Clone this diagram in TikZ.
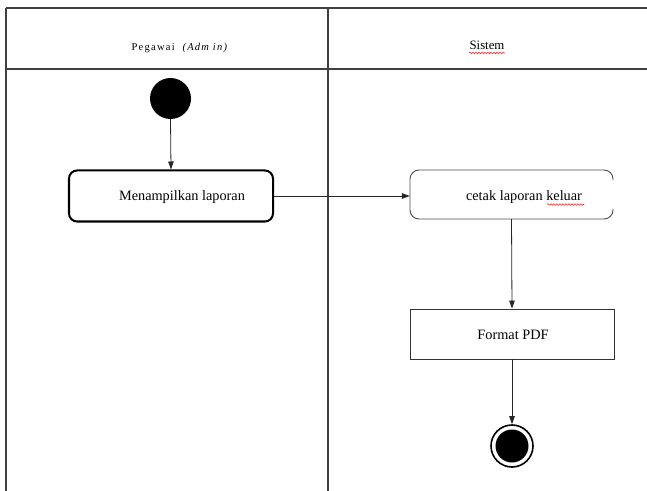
\documentclass[tikz,border=0pt]{standalone}
\usepackage{fontspec}
\setmainfont{Liberation Serif}
\newfontfamily\spacedserif[LetterSpace=12]{Liberation Serif}
\usetikzlibrary{arrows.meta,decorations.pathmorphing}

\tikzset{
  lane/.style={line width=1.3bp, draw=black!75},
  flow/.style={line width=0.8bp, draw=black!85, -{Triangle[length=8bp,width=5.5bp]}},
  startnode/.style={circle, fill=black, minimum size=41bp, inner sep=0pt},
  endnode/.style={circle, draw=black, line width=1.6bp, fill=white, minimum size=42bp, inner sep=0pt},
  boldact/.style={rectangle, rounded corners=8bp, draw=black, line width=2bp,
    minimum width=204bp, minimum height=51bp, inner sep=0pt},
  plainbox/.style={rectangle, draw=black!80, line width=0.9bp,
    minimum width=204bp, minimum height=50bp, inner sep=0pt},
  outline/.style={rectangle, minimum width=203bp, minimum height=49bp, inner sep=0pt},
  caption/.style={font=\fontsize{14.3bp}{16bp}\selectfont, inner sep=0pt},
  spell/.style={draw=red!85, line width=0.6bp,
    decorate, decoration={snake, amplitude=0.8bp, segment length=3bp}}
}

\begin{document}
\begin{tikzpicture}[x=1bp, y=-1bp]
\useasboundingbox (0,0) rectangle (647,491);

% swimlane frame
\draw[lane] (6,8) -- (647,8);
\draw[lane] (6,69) -- (647,69);
\draw[lane] (6,8) -- (6,491);
\draw[lane] (328,8) -- (328,491);

% lane headings
\node[inner sep=0pt] (laneA) at (180,48)
  {\fontsize{10.5bp}{12bp}\selectfont\spacedserif Pegawai\ \ \textit{(Adm in)}};
\node[caption, font=\fontsize{12.8bp}{14bp}\selectfont] (laneB) at (487,45) {Sistem};
\draw[spell] (469,53) -- (505,53);

% initial node
\node[startnode] (start) at (170.5,98.5) {};

% action in the Pegawai lane
\node[boldact] (show) at (171,196) {};
\node[caption] (showtxt) at (182,197) {Menampilkan laporan};

% action in the Sistem lane, right edge left open
\node[outline] (print) at (511.5,194.5) {};
\draw[line width=0.9bp, draw=black!70, rounded corners=9bp]
  (613,180) -- (613,170) -- (410,170) -- (410,219) -- (613,219) -- (613,209);
\node[caption] (printtxt) at (524,197) {cetak laporan keluar};
\draw[spell] (547,204.5) -- (584,204.5);

% output format
\node[plainbox] (pdf) at (512,334) {};
\node[caption] (pdftxt) at (513,335) {Format PDF};

% final node
\node[endnode] (end) at (512,446) {};
\fill (end.center) circle (16.5bp);

% control flow
\draw[flow] (start.south) -- (show.north);
\draw[flow] (show.east) -- (show.east -| print.west);
\draw[flow] (print.south) -- (pdf.north);
\draw[flow] (pdf.south) -- (end.north);
\end{tikzpicture}
\end{document}
